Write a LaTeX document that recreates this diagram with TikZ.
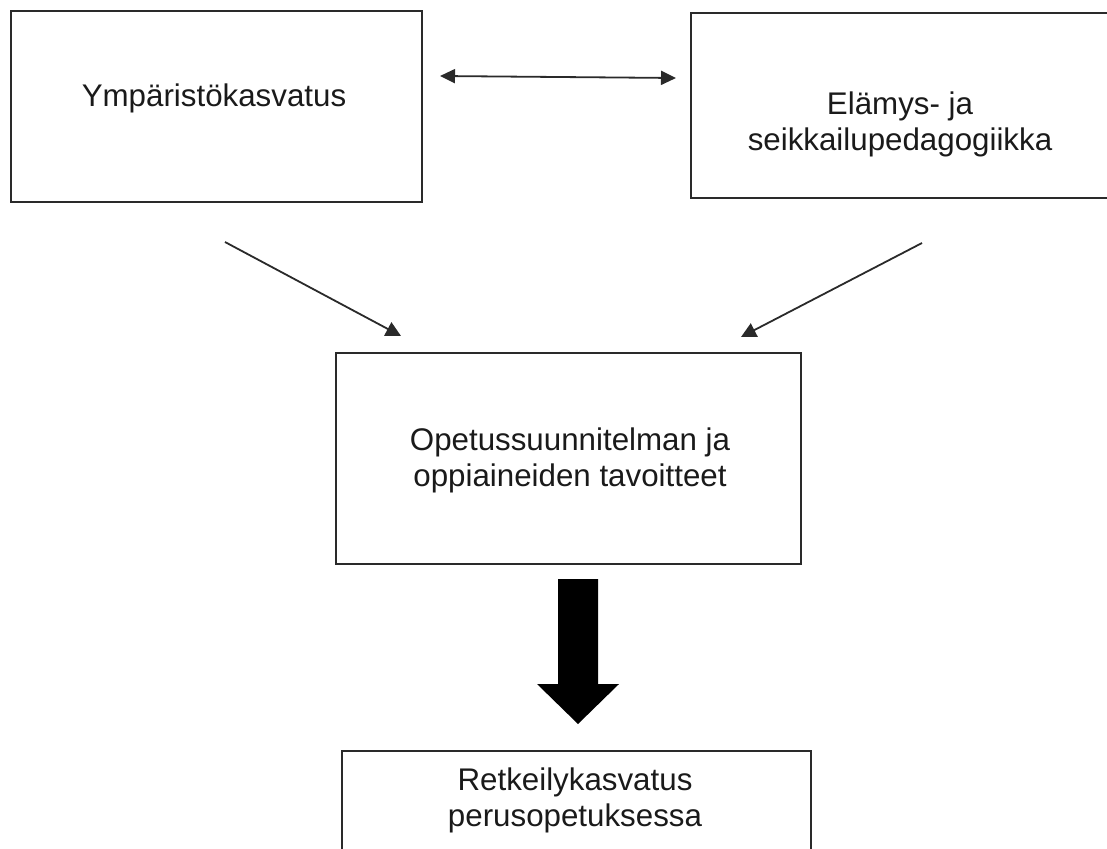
\documentclass[tikz,border=0pt]{standalone}
\usepackage{fontspec}
\setmainfont{Liberation Sans}
\usetikzlibrary{arrows.meta}
\definecolor{boxline}{HTML}{2A2A2A}
\definecolor{txt}{HTML}{1A1A1A}
\tikzset{
  box/.style={draw=boxline, line width=1.7pt, minimum width=#1, inner sep=0pt},
  lbl/.style={text=txt, align=center, font=\fontsize{31.3}{36}\selectfont, inner sep=0pt},
  conn/.style={line width=1.8pt, draw=boxline, -{Triangle[length=15pt,width=15pt]}},
  biconn/.style={line width=1.8pt, draw=boxline, {Triangle[length=15pt,width=14pt]}-{Triangle[length=15pt,width=14pt]}}
}
\begin{document}
\begin{tikzpicture}[x=1pt,y=-1pt]
\useasboundingbox (0,0) rectangle (1107,848);
\clip (0,0) rectangle (1107,848);
% boxes
\node[box=411pt, minimum height=191pt] (b1) at (216.5,106.5) {};
\node[box=422pt, minimum height=185pt] (b2) at (902,105.5) {};
\node[box=465pt, minimum height=211pt] (b3) at (568.5,458.5) {};
\node[box=469pt, minimum height=140pt] (b4) at (576.5,821) {};
% texts
\node[lbl] (t1) at (214,98) {Ympäristökasvatus};
\node[lbl] (t2) at (900,124) {Elämys- ja\\seikkailupedagogiikka};
\node[lbl] (t3) at (570,460) {Opetussuunnitelman ja\\oppiaineiden tavoitteet};
\node[lbl] (t4) at (575,800) {Retkeilykasvatus\\perusopetuksessa};
% connector ends
\coordinate (d1) at (440,76);
\coordinate (d2) at (676,78);
\coordinate (a1s) at (225,242);
\coordinate (a1e) at (401,336);
\coordinate (a2s) at (922,243);
\coordinate (a2e) at (741,337);
\draw[biconn] (d1) -- (d2);
\draw[conn] (a1s) -- (a1e);
\draw[conn] (a2s) -- (a2e);
% big block arrow
\coordinate (ba) at (578,579);
\fill[black] (558,579) -- (598,579) -- (598,684) -- (619,684) -- (578,724) -- (537,684) -- (558,684) -- cycle;
\end{tikzpicture}
\end{document}
